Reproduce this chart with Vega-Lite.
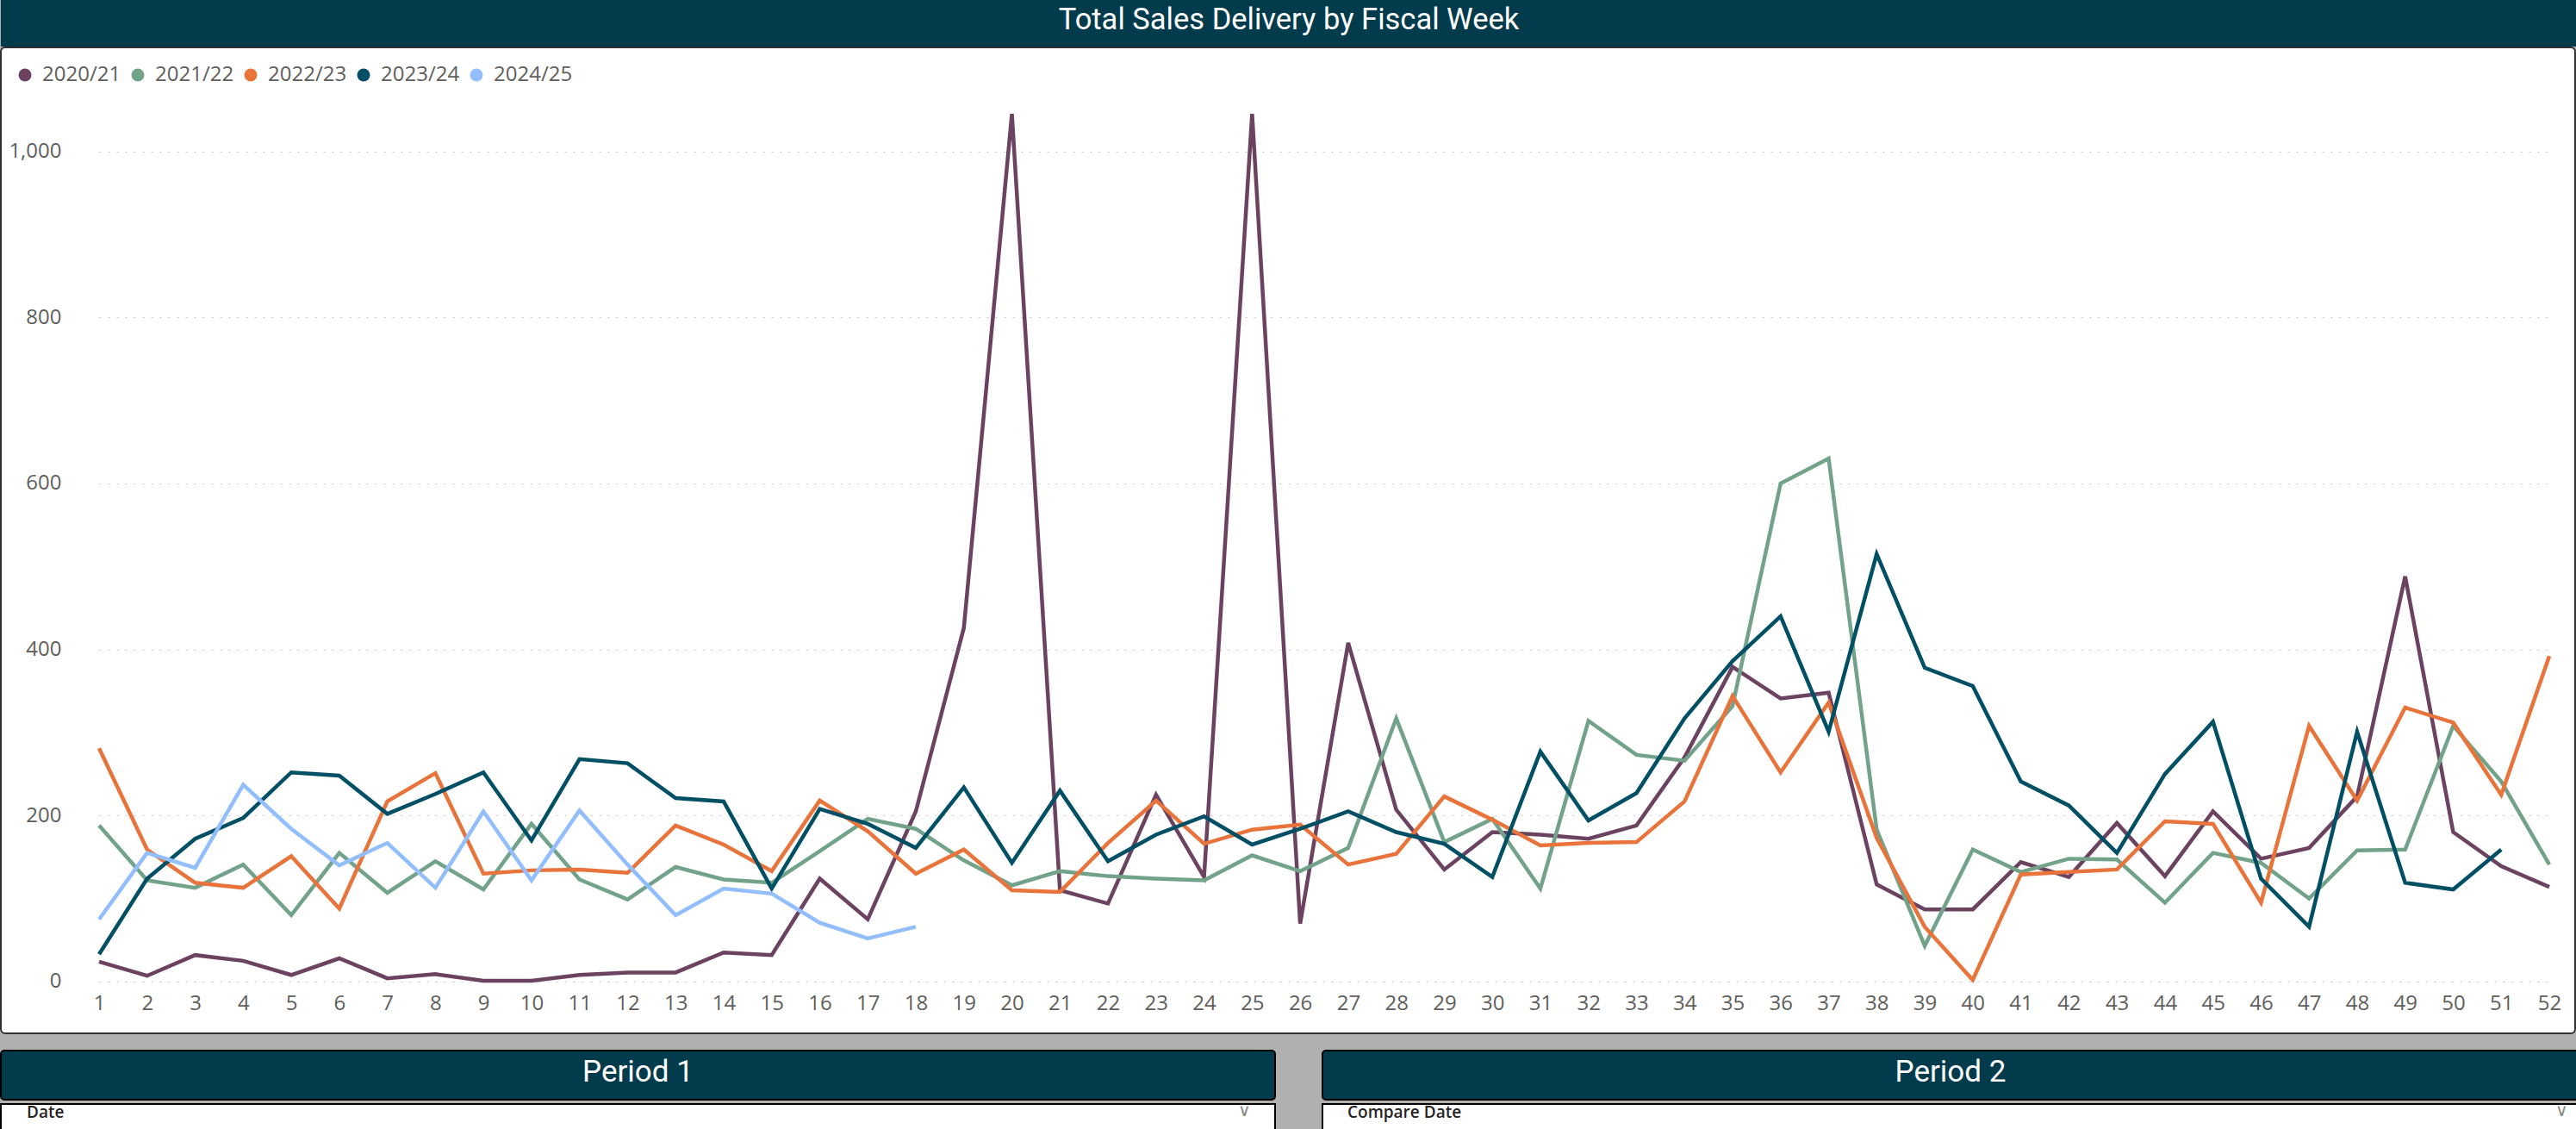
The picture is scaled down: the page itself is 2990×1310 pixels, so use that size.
{
  "$schema": "https://vega.github.io/schema/vega-lite/v6.json",
  "background": "#B0B0B0",
  "padding": 0,
  "spacing": 18,
  "config": {"view": {"stroke": null}},
  "vconcat": [
    {
      "spacing": 0,
      "vconcat": [
        {
          "width": 2990,
          "height": 54,
          "view": {"fill": "#023B4B", "stroke": null},
          "data": {"values": [{"t": "Total Sales Delivery by Fiscal Week"}]},
          "mark": {"type": "text", "font": "Roboto", "fontSize": 34.5, "color": "#FFFFFF", "dy": -3},
          "encoding": {"text": {"field": "t", "type": "nominal"}}
        },
        {
          "width": 2988,
          "height": 1144,
          "view": {"fill": "#FFFFFF", "stroke": "#303030", "strokeWidth": 2, "cornerRadius": 5},
          "data": {"values": [
            {"week":1,"year":"2020/21","sales":24},{"week":2,"year":"2020/21","sales":7},{"week":3,"year":"2020/21","sales":32},{"week":4,"year":"2020/21","sales":25},{"week":5,"year":"2020/21","sales":8},{"week":6,"year":"2020/21","sales":28},{"week":7,"year":"2020/21","sales":4},{"week":8,"year":"2020/21","sales":9},{"week":9,"year":"2020/21","sales":1},{"week":10,"year":"2020/21","sales":1},{"week":11,"year":"2020/21","sales":8},{"week":12,"year":"2020/21","sales":11},{"week":13,"year":"2020/21","sales":11},{"week":14,"year":"2020/21","sales":35},{"week":15,"year":"2020/21","sales":32},{"week":16,"year":"2020/21","sales":124},{"week":17,"year":"2020/21","sales":75},{"week":18,"year":"2020/21","sales":205},{"week":19,"year":"2020/21","sales":426},{"week":20,"year":"2020/21","sales":1045},{"week":21,"year":"2020/21","sales":110},{"week":22,"year":"2020/21","sales":94},{"week":23,"year":"2020/21","sales":225},{"week":24,"year":"2020/21","sales":126},{"week":25,"year":"2020/21","sales":1045},{"week":26,"year":"2020/21","sales":70},{"week":27,"year":"2020/21","sales":408},{"week":28,"year":"2020/21","sales":207},{"week":29,"year":"2020/21","sales":135},{"week":30,"year":"2020/21","sales":180},{"week":31,"year":"2020/21","sales":177},{"week":32,"year":"2020/21","sales":172},{"week":33,"year":"2020/21","sales":188},{"week":34,"year":"2020/21","sales":270},{"week":35,"year":"2020/21","sales":379},{"week":36,"year":"2020/21","sales":341},{"week":37,"year":"2020/21","sales":348},{"week":38,"year":"2020/21","sales":117},{"week":39,"year":"2020/21","sales":87},{"week":40,"year":"2020/21","sales":87},{"week":41,"year":"2020/21","sales":144},{"week":42,"year":"2020/21","sales":126},{"week":43,"year":"2020/21","sales":191},{"week":44,"year":"2020/21","sales":127},{"week":45,"year":"2020/21","sales":205},{"week":46,"year":"2020/21","sales":148},{"week":47,"year":"2020/21","sales":161},{"week":48,"year":"2020/21","sales":223},{"week":49,"year":"2020/21","sales":488},{"week":50,"year":"2020/21","sales":180},{"week":51,"year":"2020/21","sales":139},{"week":52,"year":"2020/21","sales":114},
            {"week":1,"year":"2021/22","sales":188},{"week":2,"year":"2021/22","sales":122},{"week":3,"year":"2021/22","sales":113},{"week":4,"year":"2021/22","sales":141},{"week":5,"year":"2021/22","sales":80},{"week":6,"year":"2021/22","sales":155},{"week":7,"year":"2021/22","sales":107},{"week":8,"year":"2021/22","sales":145},{"week":9,"year":"2021/22","sales":111},{"week":10,"year":"2021/22","sales":190},{"week":11,"year":"2021/22","sales":123},{"week":12,"year":"2021/22","sales":99},{"week":13,"year":"2021/22","sales":138},{"week":14,"year":"2021/22","sales":123},{"week":15,"year":"2021/22","sales":119},{"week":16,"year":"2021/22","sales":157},{"week":17,"year":"2021/22","sales":196},{"week":18,"year":"2021/22","sales":184},{"week":19,"year":"2021/22","sales":146},{"week":20,"year":"2021/22","sales":116},{"week":21,"year":"2021/22","sales":133},{"week":22,"year":"2021/22","sales":127},{"week":23,"year":"2021/22","sales":124},{"week":24,"year":"2021/22","sales":122},{"week":25,"year":"2021/22","sales":152},{"week":26,"year":"2021/22","sales":133},{"week":27,"year":"2021/22","sales":161},{"week":28,"year":"2021/22","sales":317},{"week":29,"year":"2021/22","sales":168},{"week":30,"year":"2021/22","sales":196},{"week":31,"year":"2021/22","sales":112},{"week":32,"year":"2021/22","sales":314},{"week":33,"year":"2021/22","sales":273},{"week":34,"year":"2021/22","sales":266},{"week":35,"year":"2021/22","sales":332},{"week":36,"year":"2021/22","sales":600},{"week":37,"year":"2021/22","sales":630},{"week":38,"year":"2021/22","sales":183},{"week":39,"year":"2021/22","sales":43},{"week":40,"year":"2021/22","sales":159},{"week":41,"year":"2021/22","sales":132},{"week":42,"year":"2021/22","sales":148},{"week":43,"year":"2021/22","sales":147},{"week":44,"year":"2021/22","sales":95},{"week":45,"year":"2021/22","sales":155},{"week":46,"year":"2021/22","sales":143},{"week":47,"year":"2021/22","sales":100},{"week":48,"year":"2021/22","sales":158},{"week":49,"year":"2021/22","sales":159},{"week":50,"year":"2021/22","sales":308},{"week":51,"year":"2021/22","sales":241},{"week":52,"year":"2021/22","sales":141},
            {"week":1,"year":"2022/23","sales":281},{"week":2,"year":"2022/23","sales":159},{"week":3,"year":"2022/23","sales":119},{"week":4,"year":"2022/23","sales":113},{"week":5,"year":"2022/23","sales":151},{"week":6,"year":"2022/23","sales":88},{"week":7,"year":"2022/23","sales":217},{"week":8,"year":"2022/23","sales":251},{"week":9,"year":"2022/23","sales":130},{"week":10,"year":"2022/23","sales":134},{"week":11,"year":"2022/23","sales":135},{"week":12,"year":"2022/23","sales":131},{"week":13,"year":"2022/23","sales":188},{"week":14,"year":"2022/23","sales":165},{"week":15,"year":"2022/23","sales":133},{"week":16,"year":"2022/23","sales":218},{"week":17,"year":"2022/23","sales":181},{"week":18,"year":"2022/23","sales":130},{"week":19,"year":"2022/23","sales":159},{"week":20,"year":"2022/23","sales":110},{"week":21,"year":"2022/23","sales":108},{"week":22,"year":"2022/23","sales":167},{"week":23,"year":"2022/23","sales":218},{"week":24,"year":"2022/23","sales":166},{"week":25,"year":"2022/23","sales":183},{"week":26,"year":"2022/23","sales":189},{"week":27,"year":"2022/23","sales":141},{"week":28,"year":"2022/23","sales":154},{"week":29,"year":"2022/23","sales":223},{"week":30,"year":"2022/23","sales":195},{"week":31,"year":"2022/23","sales":164},{"week":32,"year":"2022/23","sales":167},{"week":33,"year":"2022/23","sales":168},{"week":34,"year":"2022/23","sales":217},{"week":35,"year":"2022/23","sales":344},{"week":36,"year":"2022/23","sales":252},{"week":37,"year":"2022/23","sales":336},{"week":38,"year":"2022/23","sales":173},{"week":39,"year":"2022/23","sales":66},{"week":40,"year":"2022/23","sales":2},{"week":41,"year":"2022/23","sales":129},{"week":42,"year":"2022/23","sales":132},{"week":43,"year":"2022/23","sales":135},{"week":44,"year":"2022/23","sales":193},{"week":45,"year":"2022/23","sales":190},{"week":46,"year":"2022/23","sales":95},{"week":47,"year":"2022/23","sales":308},{"week":48,"year":"2022/23","sales":218},{"week":49,"year":"2022/23","sales":330},{"week":50,"year":"2022/23","sales":312},{"week":51,"year":"2022/23","sales":225},{"week":52,"year":"2022/23","sales":392},
            {"week":1,"year":"2023/24","sales":33},{"week":2,"year":"2023/24","sales":124},{"week":3,"year":"2023/24","sales":172},{"week":4,"year":"2023/24","sales":197},{"week":5,"year":"2023/24","sales":252},{"week":6,"year":"2023/24","sales":248},{"week":7,"year":"2023/24","sales":202},{"week":8,"year":"2023/24","sales":226},{"week":9,"year":"2023/24","sales":252},{"week":10,"year":"2023/24","sales":170},{"week":11,"year":"2023/24","sales":268},{"week":12,"year":"2023/24","sales":263},{"week":13,"year":"2023/24","sales":221},{"week":14,"year":"2023/24","sales":217},{"week":15,"year":"2023/24","sales":112},{"week":16,"year":"2023/24","sales":208},{"week":17,"year":"2023/24","sales":190},{"week":18,"year":"2023/24","sales":161},{"week":19,"year":"2023/24","sales":234},{"week":20,"year":"2023/24","sales":143},{"week":21,"year":"2023/24","sales":230},{"week":22,"year":"2023/24","sales":145},{"week":23,"year":"2023/24","sales":177},{"week":24,"year":"2023/24","sales":199},{"week":25,"year":"2023/24","sales":165},{"week":26,"year":"2023/24","sales":184},{"week":27,"year":"2023/24","sales":205},{"week":28,"year":"2023/24","sales":180},{"week":29,"year":"2023/24","sales":166},{"week":30,"year":"2023/24","sales":126},{"week":31,"year":"2023/24","sales":277},{"week":32,"year":"2023/24","sales":194},{"week":33,"year":"2023/24","sales":227},{"week":34,"year":"2023/24","sales":317},{"week":35,"year":"2023/24","sales":386},{"week":36,"year":"2023/24","sales":440},{"week":37,"year":"2023/24","sales":301},{"week":38,"year":"2023/24","sales":515},{"week":39,"year":"2023/24","sales":378},{"week":40,"year":"2023/24","sales":356},{"week":41,"year":"2023/24","sales":241},{"week":42,"year":"2023/24","sales":212},{"week":43,"year":"2023/24","sales":155},{"week":44,"year":"2023/24","sales":250},{"week":45,"year":"2023/24","sales":313},{"week":46,"year":"2023/24","sales":124},{"week":47,"year":"2023/24","sales":66},{"week":48,"year":"2023/24","sales":301},{"week":49,"year":"2023/24","sales":119},{"week":50,"year":"2023/24","sales":111},{"week":51,"year":"2023/24","sales":159},
            {"week":1,"year":"2024/25","sales":75},{"week":2,"year":"2024/25","sales":155},{"week":3,"year":"2024/25","sales":137},{"week":4,"year":"2024/25","sales":237},{"week":5,"year":"2024/25","sales":184},{"week":6,"year":"2024/25","sales":140},{"week":7,"year":"2024/25","sales":167},{"week":8,"year":"2024/25","sales":113},{"week":9,"year":"2024/25","sales":205},{"week":10,"year":"2024/25","sales":122},{"week":11,"year":"2024/25","sales":206},{"week":12,"year":"2024/25","sales":141},{"week":13,"year":"2024/25","sales":80},{"week":14,"year":"2024/25","sales":112},{"week":15,"year":"2024/25","sales":106},{"week":16,"year":"2024/25","sales":71},{"week":17,"year":"2024/25","sales":52},{"week":18,"year":"2024/25","sales":66}
          ]},
          "mark": {"type": "line", "strokeWidth": 4.5},
          "encoding": {
            "x": {
              "field": "week", "type": "ordinal",
              "scale": {"type": "point", "range": [114, 2958], "padding": 0},
              "axis": {"title": null, "orient": "bottom", "offset": -60, "domain": false, "ticks": false, "grid": false, "labelAngle": 0, "labelPadding": 13, "labelFont": "Open Sans", "labelFontSize": 24, "labelColor": "#605E5C"}
            },
            "y": {
              "field": "sales", "type": "quantitative",
              "scale": {"domain": [-62.3, 1125.1], "nice": false, "zero": false},
              "axis": {"title": null, "orient": "left", "offset": -85, "values": [0, 200, 400, 600, 800, 1000], "format": ",d", "domain": false, "ticks": false, "labelPadding": 15, "labelFont": "Open Sans", "labelFontSize": 24, "labelColor": "#605E5C", "grid": true, "gridColor": "#C8C6C4", "gridDash": [2, 8], "gridWidth": 1.2}
            },
            "color": {
              "field": "year", "type": "nominal",
              "scale": {"domain": ["2020/21", "2021/22", "2022/23", "2023/24", "2024/25"], "range": ["#6B4360", "#72A38A", "#E8743C", "#014F65", "#93BEFD"]},
              "legend": {
                "title": null, "orient": "none", "legendX": 16, "legendY": 75, "direction": "horizontal",
                "symbolType": "circle", "symbolSize": 225, "symbolStrokeWidth": 0, "symbolOpacity": 1,
                "labelFont": "Open Sans", "labelFontSize": 24, "labelColor": "#605E5C",
                "labelOffset": 8, "columnPadding": 7, "padding": 0,
                "encode": {"symbols": {"update": {"fill": {"scale": "color", "field": "value"}, "size": {"value": 225}, "strokeWidth": {"value": 0}, "opacity": {"value": 1}}}}
              }
            }
          }
        }
      ]
    },
    {
      "spacing": 53,
      "hconcat": [
        {
          "spacing": 0,
          "vconcat": [
            {
              "width": 1479, "height": 57,
              "view": {"fill": "#023B4B", "stroke": "#000000", "strokeWidth": 2, "cornerRadius": 4},
              "data": {"values": [{"t": "Period 1"}]},
              "mark": {"type": "text", "font": "Roboto", "fontSize": 35, "color": "#FFFFFF", "dy": -4},
              "encoding": {"text": {"field": "t", "type": "nominal"}}
            },
            {
              "width": 1479, "height": 37,
              "view": {"fill": "#FFFFFF", "stroke": "#000000", "strokeWidth": 2},
              "data": {"values": [{"t": "Date"}]},
              "layer": [
                {
                  "mark": {"type": "text", "align": "left", "dx": 30, "dy": -9, "font": "Open Sans", "fontSize": 19, "fontWeight": 600, "color": "#252423"},
                  "encoding": {"x": {"datum": 0, "type": "quantitative", "scale": {"domain": [0, 1]}, "axis": null}, "text": {"field": "t", "type": "nominal"}}
                },
                {
                  "mark": {"type": "text", "align": "right", "dx": -28, "dy": -11, "fontSize": 20, "color": "#8A8886"},
                  "encoding": {"x": {"datum": 1, "type": "quantitative", "scale": {"domain": [0, 1]}, "axis": null}, "text": {"value": "∨"}}
                }
              ]
            }
          ]
        },
        {
          "spacing": 0,
          "vconcat": [
            {
              "width": 1458, "height": 57,
              "view": {"fill": "#023B4B", "stroke": "#000000", "strokeWidth": 2, "cornerRadius": 4},
              "data": {"values": [{"t": "Period 2"}]},
              "mark": {"type": "text", "font": "Roboto", "fontSize": 35, "color": "#FFFFFF", "dy": -4},
              "encoding": {"text": {"field": "t", "type": "nominal"}}
            },
            {
              "width": 1458, "height": 37,
              "view": {"fill": "#FFFFFF", "stroke": "#000000", "strokeWidth": 2},
              "data": {"values": [{"t": "Compare Date"}]},
              "layer": [
                {
                  "mark": {"type": "text", "align": "left", "dx": 29, "dy": -9, "font": "Open Sans", "fontSize": 19, "fontWeight": 600, "color": "#252423"},
                  "encoding": {"x": {"datum": 0, "type": "quantitative", "scale": {"domain": [0, 1]}, "axis": null}, "text": {"field": "t", "type": "nominal"}}
                },
                {
                  "mark": {"type": "text", "align": "right", "dx": -12, "dy": -11, "fontSize": 20, "color": "#8A8886"},
                  "encoding": {"x": {"datum": 1, "type": "quantitative", "scale": {"domain": [0, 1]}, "axis": null}, "text": {"value": "∨"}}
                }
              ]
            }
          ]
        }
      ]
    }
  ]
}
